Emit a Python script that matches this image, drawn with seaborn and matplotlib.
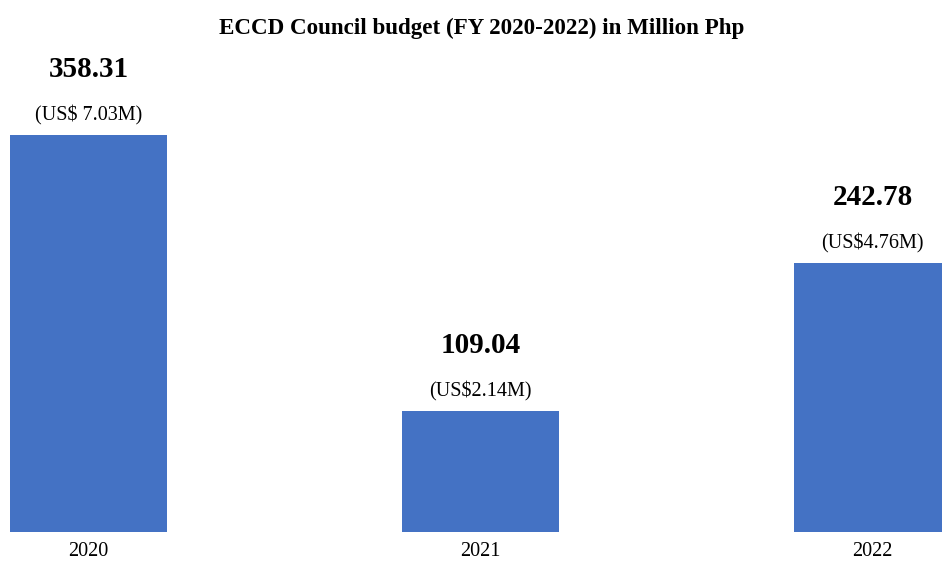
import numpy as np
import pandas as pd
import matplotlib
matplotlib.use('Agg')
import matplotlib.pyplot as plt
import seaborn as sns

sns.set_style('white')
plt.rcParams['font.family'] = ['Liberation Serif', 'DejaVu Serif']
plt.rcParams['text.color'] = 'black'
plt.rcParams['xtick.color'] = 'black'

#dados
anos = ['2020', '2021', '2022']
orcamento = [358.31, 109.04, 242.78]
usd = ['(US$ 7.03M)', '(US$2.14M)', '(US$4.76M)']

df = pd.DataFrame({'Ano': anos, 'Orcamento': orcamento})

fig = plt.figure(figsize=(9.42, 5.63), dpi=100)
ax = fig.add_axes([0, 31/563, 1, 1 - 31/563])

sns.barplot(data=df, x='Ano', y='Orcamento', color='#4472C4', width=0.4,
            saturation=1, linewidth=0, ax=ax)

ax.set_xlim(-88.5/392, (942-88.5)/392)
ax.set_ylim(0, 480)

for i, v in enumerate(orcamento):
	ax.annotate('{:.2f}'.format(v), (i, v), xytext=(0, 47), textcoords='offset points',
	            ha='center', va='center', fontsize=21, fontweight='bold')
	ax.annotate(usd[i], (i, v), xytext=(0, 14), textcoords='offset points',
	            ha='center', va='center', fontsize=14.5)

fig.text(0.511, 1 - 28/563, 'ECCD Council budget (FY 2020-2022) in Million Php',
         ha='center', va='center', fontsize=16.6, fontweight='bold')

ax.set_xlabel('')
ax.set_ylabel('')
ax.set_yticks([])
ax.tick_params(axis='x', length=0, pad=7, labelsize=14.5)
for s in ax.spines.values():
	s.set_visible(False)

fig.savefig('out.png', dpi=100)
